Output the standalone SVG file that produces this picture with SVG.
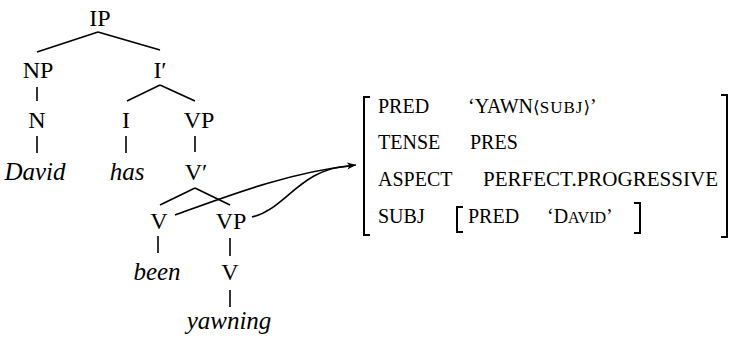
<svg xmlns="http://www.w3.org/2000/svg" width="731" height="339" viewBox="0 0 731 339">
<style>
text{font-family:'Liberation Serif',serif;fill:#000}
.n{font-size:24px;text-anchor:middle}
.w{font-size:25px;font-style:italic;text-anchor:middle}
.a{font-size:20px}
.sym{font-family:'DejaVu Serif',serif;font-size:17px}
.e{stroke:#000;stroke-width:1.6;fill:none}
.br{stroke:#000;stroke-width:2;fill:none}
</style>
<defs>
<marker id="ah" markerWidth="10" markerHeight="8" refX="9" refY="4" orient="auto" markerUnits="userSpaceOnUse">
<path d="M0,0.5 L9,4 L0,7.5 L2.5,4 Z" fill="#000"/>
</marker>
</defs>
<rect width="731" height="339" fill="#fff"/>
<g id="edges">
<line class="e" x1="98" y1="32" x2="37" y2="52"/>
<line class="e" x1="98" y1="32" x2="160" y2="50"/>
<line class="e" x1="37" y1="87" x2="37" y2="101"/>
<line class="e" x1="160" y1="85" x2="127" y2="101"/>
<line class="e" x1="160" y1="85" x2="195" y2="101"/>
<line class="e" x1="37" y1="136" x2="37" y2="153"/>
<line class="e" x1="126" y1="136" x2="126" y2="153"/>
<line class="e" x1="195" y1="136" x2="195" y2="152"/>
<line class="e" x1="195" y1="188" x2="160" y2="205"/>
<line class="e" x1="195" y1="188" x2="230" y2="205"/>
<line class="e" x1="158" y1="236" x2="158" y2="253"/>
<line class="e" x1="230" y1="238" x2="230" y2="256"/>
<line class="e" x1="230" y1="290" x2="230" y2="307"/>
<path class="e" d="M175,215 C230,195 290,172 356,165" marker-end="url(#ah)"/>
<path class="e" d="M252,217 C285,210 300,168 350,166"/>
</g>
<g id="IP"><text class="n" x="100" y="26">IP</text></g>
<g id="NP"><text class="n" x="38" y="78">NP</text></g>
<g id="Ibar"><text class="n" x="160" y="78">I′</text></g>
<g id="N"><text class="n" x="37" y="128">N</text></g>
<g id="I"><text class="n" x="126" y="128">I</text></g>
<g id="VP1"><text class="n" x="199" y="128">VP</text></g>
<g id="David"><text class="w" x="35" y="180">David</text></g>
<g id="has"><text class="w" x="127" y="180">has</text></g>
<g id="Vbar"><text class="n" x="196" y="180">V′</text></g>
<g id="V1"><text class="n" x="159" y="229">V</text></g>
<g id="VP2"><text class="n" x="231" y="229">VP</text></g>
<g id="been"><text class="w" x="157" y="280">been</text></g>
<g id="V2"><text class="n" x="230" y="280">V</text></g>
<g id="yawning"><text class="w" x="229" y="329">yawning</text></g>
<g id="fstructure">
<path class="br" d="M370,97 H364 V235 H370"/>
<path class="br" d="M721,95 H727 V237 H721"/>
<path class="br" d="M463,207 H457 V232 H463"/>
<path class="br" d="M634,203 H640 V233 H634"/>
<text class="a" x="378" y="113">PRED</text>
<text class="a" x="468" y="113">‘YAWN<tspan class="sym">⟨</tspan><tspan font-size="17" letter-spacing="1">SUBJ</tspan><tspan class="sym">⟩</tspan>’</text>
<text class="a" x="378" y="149">TENSE</text>
<text class="a" x="470" y="149">PRES</text>
<text class="a" x="378" y="186">ASPECT</text>
<text class="a" x="483" y="186" textLength="235" lengthAdjust="spacingAndGlyphs">PERFECT.PROGRESSIVE</text>
<text class="a" x="378" y="223">SUBJ</text>
<text class="a" x="468" y="223">PRED</text>
<text class="a" x="547" y="223">‘D<tspan font-size="16">AVID</tspan>’</text>
</g>
</svg>
